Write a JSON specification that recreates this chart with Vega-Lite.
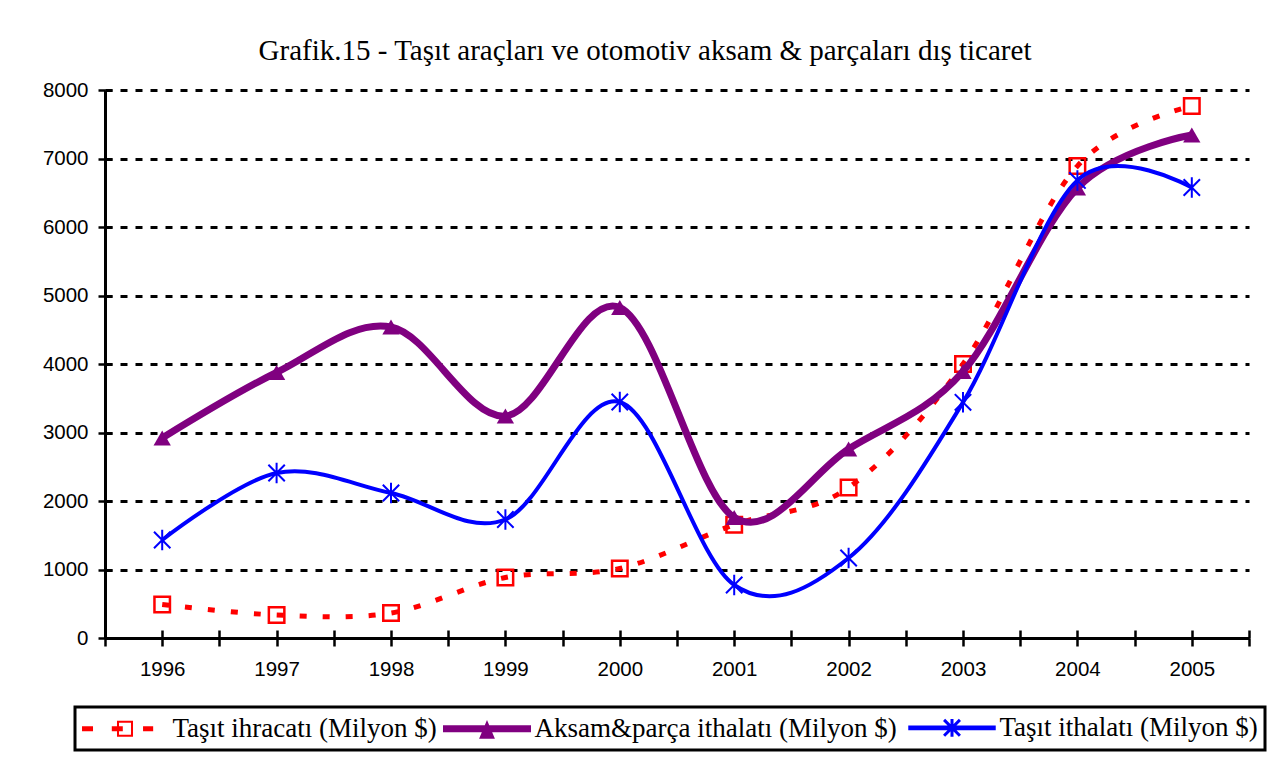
{
  "$schema": "https://vega.github.io/schema/vega-lite/v6.json",
  "width": 1144,
  "height": 548,
  "autosize": {"type": "none"},
  "padding": {"left": 105, "top": 90, "right": 35, "bottom": 132},
  "background": "white",
  "config": {"view": {"stroke": null}},
  "title": {
    "text": "Grafik.15 - Taşıt araçları ve otomotiv aksam & parçaları dış ticaret",
    "font": "Liberation Serif",
    "fontSize": 29,
    "fontWeight": "normal",
    "color": "black",
    "anchor": "middle",
    "frame": "group",
    "dx": -32,
    "offset": 14
  },
  "data": {
    "values": [
      {"year": 1996, "series": "Taşıt ihracatı (Milyon $)", "value": 490},
      {"year": 1997, "series": "Taşıt ihracatı (Milyon $)", "value": 336},
      {"year": 1998, "series": "Taşıt ihracatı (Milyon $)", "value": 365},
      {"year": 1999, "series": "Taşıt ihracatı (Milyon $)", "value": 883},
      {"year": 2000, "series": "Taşıt ihracatı (Milyon $)", "value": 1015},
      {"year": 2001, "series": "Taşıt ihracatı (Milyon $)", "value": 1655},
      {"year": 2002, "series": "Taşıt ihracatı (Milyon $)", "value": 2197},
      {"year": 2003, "series": "Taşıt ihracatı (Milyon $)", "value": 4000},
      {"year": 2004, "series": "Taşıt ihracatı (Milyon $)", "value": 6890},
      {"year": 2005, "series": "Taşıt ihracatı (Milyon $)", "value": 7765},
      {"year": 1996, "series": "Aksam&parça ithalatı (Milyon $)", "value": 2920},
      {"year": 1997, "series": "Aksam&parça ithalatı (Milyon $)", "value": 3876},
      {"year": 1998, "series": "Aksam&parça ithalatı (Milyon $)", "value": 4540},
      {"year": 1999, "series": "Aksam&parça ithalatı (Milyon $)", "value": 3240},
      {"year": 2000, "series": "Aksam&parça ithalatı (Milyon $)", "value": 4825},
      {"year": 2001, "series": "Aksam&parça ithalatı (Milyon $)", "value": 1760},
      {"year": 2002, "series": "Aksam&parça ithalatı (Milyon $)", "value": 2760},
      {"year": 2003, "series": "Aksam&parça ithalatı (Milyon $)", "value": 3890},
      {"year": 2004, "series": "Aksam&parça ithalatı (Milyon $)", "value": 6570},
      {"year": 2005, "series": "Aksam&parça ithalatı (Milyon $)", "value": 7343},
      {"year": 1996, "series": "Taşıt ithalatı (Milyon $)", "value": 1431},
      {"year": 1997, "series": "Taşıt ithalatı (Milyon $)", "value": 2409},
      {"year": 1998, "series": "Taşıt ithalatı (Milyon $)", "value": 2117},
      {"year": 1999, "series": "Taşıt ithalatı (Milyon $)", "value": 1730},
      {"year": 2000, "series": "Taşıt ithalatı (Milyon $)", "value": 3445},
      {"year": 2001, "series": "Taşıt ithalatı (Milyon $)", "value": 774},
      {"year": 2002, "series": "Taşıt ithalatı (Milyon $)", "value": 1168},
      {"year": 2003, "series": "Taşıt ithalatı (Milyon $)", "value": 3440},
      {"year": 2004, "series": "Taşıt ithalatı (Milyon $)", "value": 6680},
      {"year": 2005, "series": "Taşıt ithalatı (Milyon $)", "value": 6577}
    ]
  },
  "layer": [
    {
      "encoding": {
        "x": {
          "field": "year",
          "type": "quantitative",
          "scale": {"domain": [1995.5, 2005.5], "nice": false, "zero": false},
          "axis": {
            "title": null,
            "orient": "bottom",
            "values": [1995.5, 1996, 1996.5, 1997, 1997.5, 1998, 1998.5, 1999, 1999.5, 2000, 2000.5, 2001, 2001.5, 2002, 2002.5, 2003, 2003.5, 2004, 2004.5, 2005, 2005.5],
            "tickCount": 100,
            "tickMinStep": 0.5,
            "labelExpr": "datum.value % 1 === 0 ? '' + datum.value : ''",
            "grid": false,
            "domainColor": "black",
            "domainWidth": 3,
            "tickColor": "black",
            "tickWidth": 2.5,
            "tickSize": 8,
            "labelFont": "Liberation Sans",
            "labelFontSize": 20.5,
            "labelColor": "black",
            "labelPadding": 13,
            "labelFlush": false,
            "labelOverlap": false
          }
        },
        "y": {
          "field": "value",
          "type": "quantitative",
          "scale": {"domain": [0, 8000], "nice": false},
          "axis": {
            "title": null,
            "orient": "left",
            "values": [0, 1000, 2000, 3000, 4000, 5000, 6000, 7000, 8000],
            "tickCount": 100,
            "format": "d",
            "grid": true,
            "gridColor": "black",
            "gridDash": [7, 8],
            "gridWidth": 3,
            "domainColor": "black",
            "domainWidth": 3,
            "tickColor": "black",
            "tickWidth": 2.5,
            "tickSize": 7,
            "labelFont": "Liberation Sans",
            "labelFontSize": 20.5,
            "labelColor": "black",
            "labelPadding": 10,
            "labelOverlap": false
          }
        }
      },
      "layer": [
        {
          "transform": [{"filter": "datum.series === 'Taşıt ihracatı (Milyon $)'"}],
          "mark": {"type": "line", "interpolate": "cardinal", "strokeWidth": 5, "strokeDash": [7, 16]},
          "encoding": {
            "color": {
              "field": "series",
              "type": "nominal",
              "scale": {
                "domain": ["Taşıt ihracatı (Milyon $)", "Aksam&parça ithalatı (Milyon $)", "Taşıt ithalatı (Milyon $)"],
                "range": ["#ff0000", "#800080", "#0000ff"]
              },
              "legend": {
                "orient": "none",
                "legendX": -30,
                "legendY": 617,
                "direction": "horizontal",
                "title": null,
                "labelFont": "Liberation Serif",
                "labelFontSize": 27,
                "labelColor": "black",
                "labelLimit": 1000,
                "labelOffset": 34,
                "symbolOffset": 29.5,
                "columnPadding": 6,
                "symbolSize": 7744,
                "symbolStrokeWidth": 0,
                "padding": 7,
                "strokeColor": "black",
                "fillColor": "white",
                "encode": {
                  "legend": {
                    "update": {"strokeWidth": {"value": 3}}
                  },
                  "symbols": {
                    "update": {
                      "size": {"value": 7744},
                      "shape": {"signal": "datum.index === 0 ? 'M-0.977,-0.057L-0.727,-0.057L-0.727,0.057L-0.977,0.057Z M-0.3,-0.057L-0.05,-0.057L-0.05,0.057L-0.3,0.057Z M-0.182,-0.182L0.182,-0.182L0.182,0.182L-0.182,0.182Z M-0.136,-0.136L-0.136,0.136L0.136,0.136L0.136,-0.136Z M0.41,-0.057L0.64,-0.057L0.64,0.057L0.41,0.057Z' : (datum.index === 1 ? 'M-1,-0.08L1,-0.08L1,0.08L-1,0.08Z M0,-0.2L0.18,0.227L-0.18,0.227Z' : 'M-0.96,-0.02L0.96,-0.02L0.96,0.02L-0.96,0.02Z M0,-0.2L0,0.2 M-0.18,-0.18L0.18,0.18 M-0.18,0.18L0.18,-0.18')"},
                      "fill": {"signal": "datum.index === 0 ? '#ff0000' : (datum.index === 1 ? '#800080' : '#0000ff')"},
                      "stroke": {"signal": "datum.index === 2 ? '#0000ff' : 'transparent'"},
                      "strokeWidth": {"signal": "datum.index === 2 ? 3 : 0"},
                      "opacity": {"value": 1}
                    }
                  }
                }
              }
            }
          }
        },
        {
          "transform": [{"filter": "datum.series === 'Taşıt ihracatı (Milyon $)'"}],
          "mark": {"type": "point", "shape": "square", "size": 240, "filled": false, "color": "#ff0000", "strokeWidth": 2.5, "opacity": 1}
        },
        {
          "transform": [{"filter": "datum.series === 'Aksam&parça ithalatı (Milyon $)'"}],
          "mark": {"type": "line", "interpolate": "cardinal", "strokeWidth": 7, "color": "#800080"}
        },
        {
          "transform": [{"filter": "datum.series === 'Aksam&parça ithalatı (Milyon $)'"}],
          "mark": {"type": "point", "shape": "triangle-up", "size": 300, "filled": true, "color": "#800080", "opacity": 1}
        },
        {
          "transform": [{"filter": "datum.series === 'Taşıt ithalatı (Milyon $)'"}],
          "mark": {"type": "line", "interpolate": "cardinal", "strokeWidth": 4, "color": "#0000ff"}
        },
        {
          "transform": [{"filter": "datum.series === 'Taşıt ithalatı (Milyon $)'"}],
          "mark": {"type": "point", "shape": "M0,-1L0,1M-0.8,-0.8L0.8,0.8M-0.8,0.8L0.8,-0.8", "size": 420, "filled": false, "color": "#0000ff", "strokeWidth": 2, "opacity": 1}
        }
      ]
    },
    {
      "mark": {"type": "point", "opacity": 0},
      "encoding": {
        "x": {
          "field": "year",
          "type": "quantitative",
          "axis": {
            "orient": "bottom",
            "title": null,
            "values": [1995.5, 1996, 1996.5, 1997, 1997.5, 1998, 1998.5, 1999, 1999.5, 2000, 2000.5, 2001, 2001.5, 2002, 2002.5, 2003, 2003.5, 2004, 2004.5, 2005, 2005.5],
            "tickCount": 100,
            "tickMinStep": 0.5,
            "labels": false,
            "domain": false,
            "grid": false,
            "offset": -8,
            "tickSize": 8,
            "tickColor": "black",
            "tickWidth": 2.5
          }
        },
        "y": {
          "field": "value",
          "type": "quantitative",
          "axis": {
            "orient": "left",
            "title": null,
            "values": [0, 1000, 2000, 3000, 4000, 5000, 6000, 7000, 8000],
            "tickCount": 100,
            "labels": false,
            "domain": false,
            "grid": false,
            "offset": -7,
            "tickSize": 7,
            "tickColor": "black",
            "tickWidth": 2.5
          }
        }
      }
    }
  ],
  "resolve": {"axis": {"x": "independent", "y": "independent"}}
}
